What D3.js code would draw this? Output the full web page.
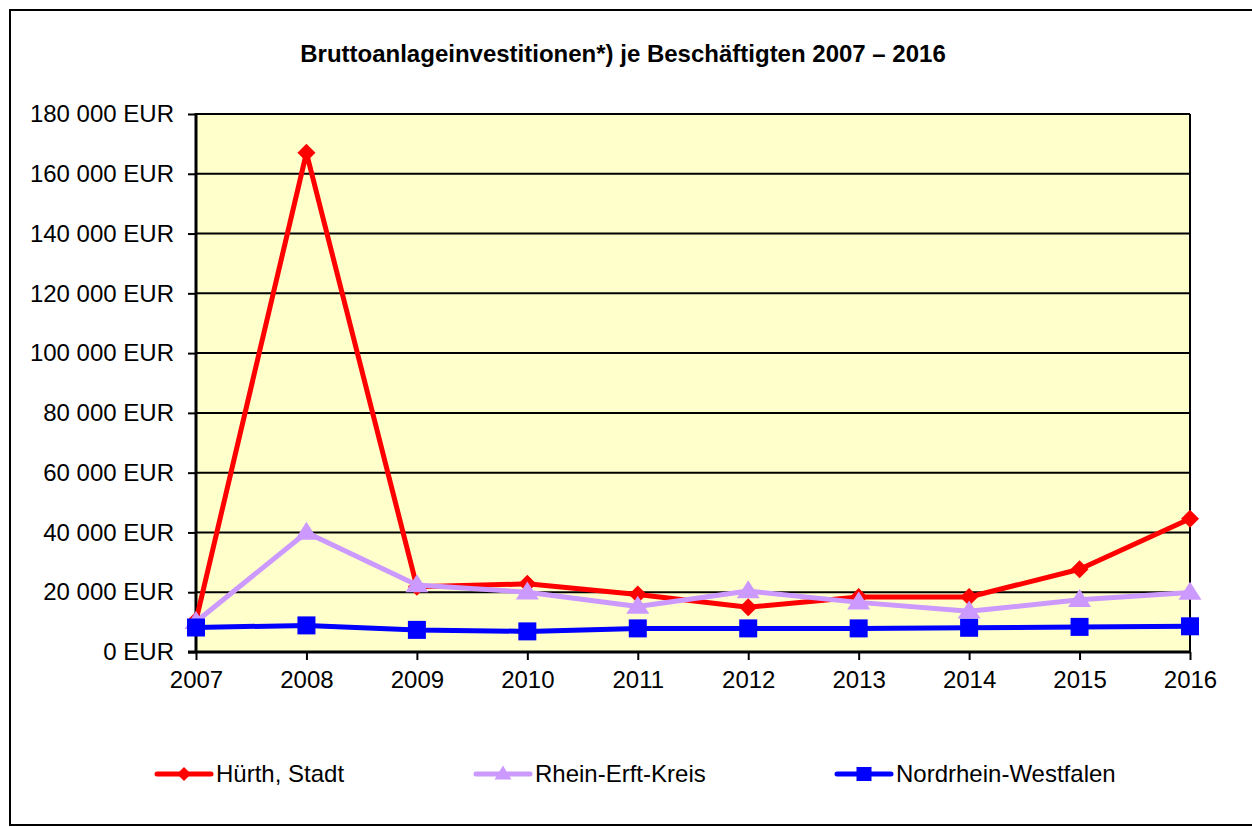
<!DOCTYPE html>
<html>
<head>
<meta charset="utf-8">
<script src="https://cdn.jsdelivr.net/npm/d3@7"></script>
<style>
  body { margin: 0; background: #fff; }
  text { font-family: Arial, "Liberation Sans", sans-serif; }
</style>
</head>
<body>
<div class="chart"></div>
<script>
// Data
let years = ["2007", "2008", "2009", "2010", "2011", "2012", "2013", "2014", "2015", "2016"];
let huerth = [10500, 167000, 21800, 22800, 19200, 15000, 18400, 18400, 27700, 44600];
let rheinErft = [10100, 40000, 22400, 20000, 15200, 20400, 16600, 13600, 17500, 19900];
let nrw = [8200, 8900, 7400, 6900, 7900, 7900, 7900, 8100, 8400, 8600];
let yTicks = [0, 20000, 40000, 60000, 80000, 100000, 120000, 140000, 160000, 180000];
let title = "Bruttoanlageinvestitionen*) je Beschäftigten 2007 \u2013 2016";

// marker shapes: [width, height] in plot and in legend
function marker(kind, w, h) {
  let p = d3.path();
  if (kind === "diamond") {
    p.moveTo(0, -h / 2); p.lineTo(w / 2, 0); p.lineTo(0, h / 2); p.lineTo(-w / 2, 0);
  } else if (kind === "triangle") {
    p.moveTo(0, -h * 0.6); p.lineTo(w / 2, h * 0.4); p.lineTo(-w / 2, h * 0.4);
  } else {
    p.rect(-w / 2, -h / 2, w, h);
  }
  p.closePath();
  return p.toString();
}

let series = [
  { name: "Hürth, Stadt", values: huerth, color: "#ff0000", kind: "diamond", size: [18, 18], lsize: [14, 14], legendX: 157 },
  { name: "Rhein-Erft-Kreis", values: rheinErft, color: "#cc99ff", kind: "triangle", size: [23, 18], lsize: [17, 14], legendX: 476 },
  { name: "Nordrhein-Westfalen", values: nrw, color: "#0000ff", kind: "square", size: [18, 18], lsize: [15, 14], legendX: 837 }
];

let width = 1252;
let height = 827;
let plot = { left: 196, right: 1190, top: 114, bottom: 652 };
let font = "Arial, 'Liberation Sans', sans-serif";
let fontSize = "24px";

let svg = d3
  .select(".chart")
  .append("svg")
  .attr("width", width)
  .attr("height", height);

// Outer frame
svg.append("rect")
  .attr("x", 10).attr("y", 10)
  .attr("width", 1260).attr("height", 815)
  .attr("fill", "#fff")
  .attr("stroke", "#000")
  .attr("stroke-width", 2);

// Title
svg.append("text")
  .attr("x", 623).attr("y", 62)
  .attr("text-anchor", "middle")
  .attr("font-size", fontSize)
  .attr("font-weight", "bold")
  .text(title);

// Scales
let x = d3.scalePoint().domain(years).range([plot.left, plot.right]);
let y = d3.scaleLinear().domain([0, 180000]).range([plot.bottom, plot.top]);
let fmt = (d) => d3.format(",")(d).replace(/,/g, " ") + " EUR";

// Plot background
svg.append("rect")
  .attr("x", plot.left).attr("y", plot.top)
  .attr("width", plot.right - plot.left)
  .attr("height", plot.bottom - plot.top)
  .attr("fill", "#ffffcc");

// Gridlines
svg.append("g")
  .selectAll("line")
  .data(yTicks.filter((d) => d > 0))
  .enter()
  .append("line")
  .attr("x1", plot.left).attr("x2", plot.right)
  .attr("y1", (d) => y(d)).attr("y2", (d) => y(d))
  .attr("stroke", "#000")
  .attr("stroke-width", 2);

// Right border of plot
svg.append("line")
  .attr("x1", plot.right).attr("x2", plot.right)
  .attr("y1", plot.top).attr("y2", plot.bottom)
  .attr("stroke", "#000").attr("stroke-width", 2);

// Y axis
let yAxis = svg.append("g")
  .attr("transform", `translate(${plot.left},0)`)
  .call(d3.axisLeft(y).tickValues(yTicks).tickFormat(fmt).tickSize(8).tickPadding(14));
yAxis.select(".domain").attr("stroke-width", 3).attr("d", `M0,${plot.top - 1}V${plot.bottom}`);
yAxis.selectAll(".tick line").attr("stroke-width", 2);
yAxis.selectAll("text").attr("font-size", fontSize).attr("fill", "#000").attr("font-family", font);

// X axis
let xAxis = svg.append("g")
  .attr("transform", `translate(0,${plot.bottom})`)
  .call(d3.axisBottom(x).tickSize(8).tickPadding(11));
xAxis.select(".domain").attr("stroke-width", 3).attr("d", `M${plot.left - 8},0H${plot.right + 1}`);
xAxis.selectAll(".tick line").attr("stroke-width", 2);
xAxis.selectAll("text").attr("font-size", fontSize).attr("fill", "#000").attr("font-family", font);

// Lines and markers
let line = d3.line()
  .x((d, i) => x(years[i]))
  .y((d) => y(d));

series.forEach(function (s) {
  let g = svg.append("g");
  g.append("path")
    .attr("d", line(s.values))
    .attr("fill", "none")
    .attr("stroke", s.color)
    .attr("stroke-width", 5)
    .attr("stroke-linejoin", "round");
  g.selectAll("path.mark")
    .data(s.values)
    .enter()
    .append("path")
    .attr("class", "mark")
    .attr("d", marker(s.kind, s.size[0], s.size[1]))
    .attr("transform", (d, i) => `translate(${x(years[i])},${y(d)})`)
    .attr("fill", s.color);
});

// Legend
let legend = svg.append("g");
series.forEach(function (s) {
  let lg = legend.append("g").attr("transform", `translate(${s.legendX},774)`);
  lg.append("line")
    .attr("x1", 0).attr("x2", 54)
    .attr("stroke", s.color)
    .attr("stroke-width", 5)
    .attr("stroke-linecap", "round");
  lg.append("path")
    .attr("d", marker(s.kind, s.lsize[0], s.lsize[1]))
    .attr("transform", "translate(27,0)")
    .attr("fill", s.color);
  lg.append("text")
    .attr("x", 59).attr("y", 8)
    .attr("font-size", fontSize)
    .text(s.name);
});
</script>
</body>
</html>
